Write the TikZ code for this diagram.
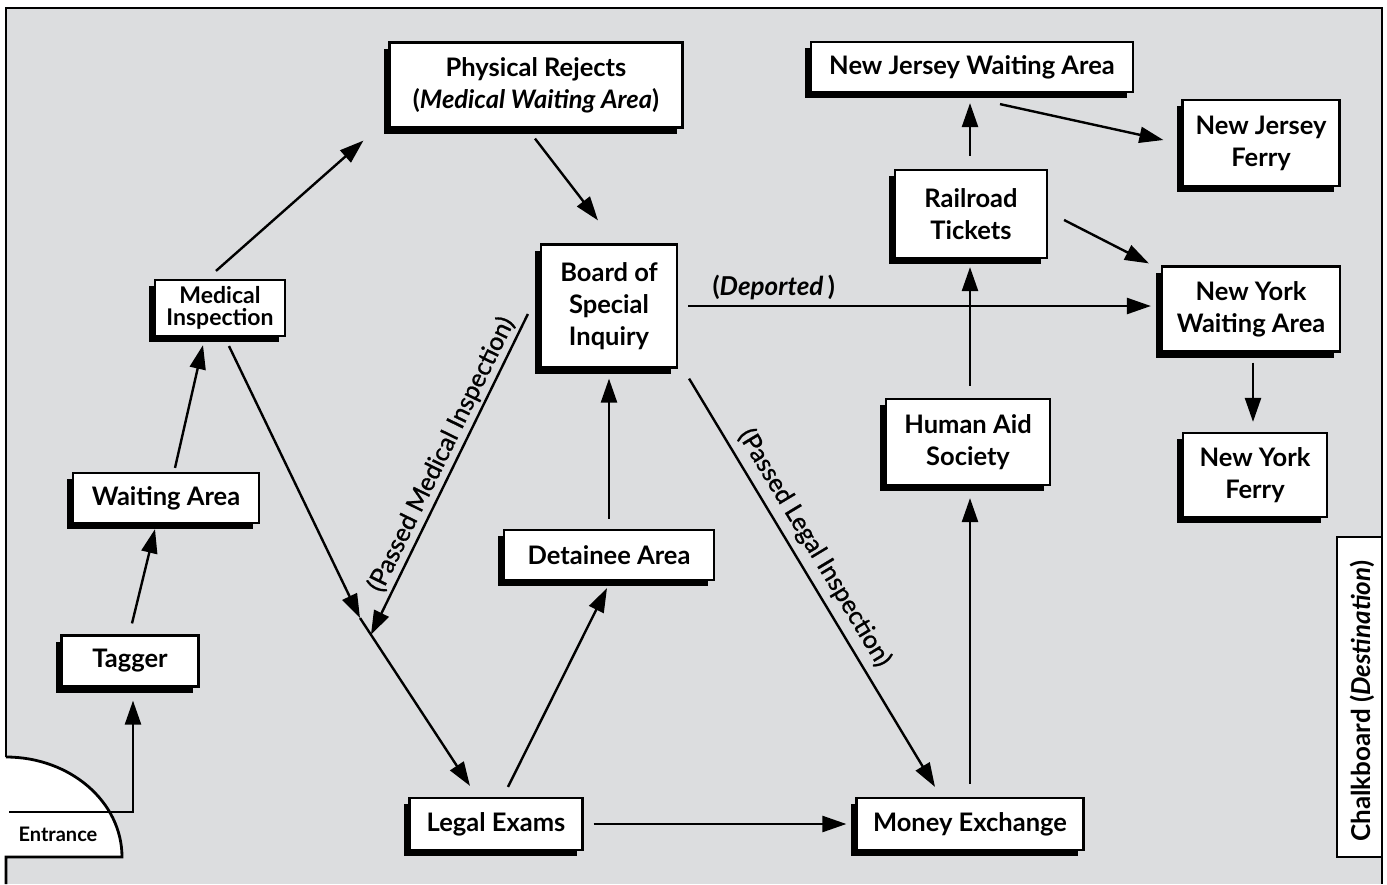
\documentclass[tikz,border=0pt]{standalone}
\usepackage{fontspec}
\setmainfont{Lato}
\newfontfamily\lblfont{Lato}[FakeBold=1]
\usetikzlibrary{arrows.meta,calc,shadows}
\definecolor{floor}{RGB}{220,221,223}
\begin{document}
\begin{tikzpicture}[x=1pt,y=-1pt,
  box/.style={draw=black, line width=2.2pt, fill=white, align=center, inner sep=0pt,
    font=\bfseries\fontsize{25.5}{32}\selectfont,
    general shadow={fill=black, shadow xshift=-6pt, shadow yshift=-6pt}},
  arr/.style={line width=2.4pt, -{Triangle[length=24pt,width=16pt]}},
  wall/.style={line width=2.8pt},
  lbl/.style={inner sep=1pt, font=\lblfont\fontsize{25}{28}\selectfont}
]
\useasboundingbox (0,0) rectangle (1387,884);

% floor plan: room, entrance and chalkboard
\fill[white] (0,0) rectangle (1387,884);
\fill[floor] (6,8) rectangle (1382,884);
\fill[white] (6,757) arc[start angle=90, end angle=0, x radius=116pt, y radius=100pt] -- (6,857) -- cycle;
\fill[white] (1337,537) rectangle (1382,857);
\draw[wall] (6,757) -- (6,8) -- (1382,8) -- (1382,884);
\draw[wall] (6,757) arc[start angle=90, end angle=0, x radius=116pt, y radius=100pt] -- (6,857) -- (6,884);
\draw[wall] (1382,537) -- (1337,537) -- (1337,857) -- (1382,857);
\node[font=\bfseries\fontsize{20}{22}\selectfont] (entr) at (58,834) {Entrance};
\node[rotate=90, font=\bfseries\fontsize{26}{28}\selectfont] (chalk) at (1362,701) {Chalkboard (\textit{Destination})};

% stations
\node[box, minimum width=293pt, minimum height=85pt] (phys) at (536,85) {Physical Rejects\\(\textit{Medical Waiting Area})};
\node[box, minimum width=322pt, minimum height=50pt] (njw) at (972,67) {New Jersey Waiting Area};
\node[box, minimum width=157pt, minimum height=86pt] (njf) at (1261,143) {New Jersey\\Ferry};
\node[box, minimum width=152pt, minimum height=88pt] (rr) at (971,214) {Railroad\\Tickets};
\node[box, minimum width=136pt, minimum height=123pt] (bsi) at (609,306) {Board of\\Special\\Inquiry};
\node[box, minimum width=178pt, minimum height=85pt] (nyw) at (1251,309) {New York\\Waiting Area};
\node[box, minimum width=130pt, minimum height=56pt, font=\bfseries\fontsize{23}{22}\selectfont] (med) at (220,308) {Medical\\Inspection};
\node[box, minimum width=164pt, minimum height=86pt] (has) at (968,442) {Human Aid\\Society};
\node[box, minimum width=144pt, minimum height=84pt] (nyf) at (1255,475) {New York\\Ferry};
\node[box, minimum width=186pt, minimum height=50pt] (wait) at (166,498) {Waiting Area};
\node[box, minimum width=210pt, minimum height=50pt] (det) at (609,555) {Detainee Area};
\node[box, minimum width=137pt, minimum height=51pt] (tag) at (130,661) {Tagger};
\node[box, minimum width=173pt, minimum height=52pt] (legal) at (496,824) {Legal Exams};
\node[box, minimum width=227pt, minimum height=52pt] (money) at (970,824) {Money Exchange};

% route points
\coordinate (ent) at (9,812);
\coordinate (J) at (360,618);
\coordinate (Lend) at ($(legal.north)+(-26,-11)$);
\coordinate (K) at ($(J)!20pt!(Lend)$);

% flow of arrivals
\draw[arr] (ent) -| ($(tag.south)+(3,13)$);
\draw[arr] ($(tag.north)+(2,-11)$) -- ($(wait.south)+(-11,5)$);
\draw[arr] ($(wait.north)+(9,-4)$) -- ($(med.south)+(-17,8)$);
\draw[arr] ($(med.north)+(-4,-8)$) -- ($(phys.south west)+(-25,12)$);
\draw[arr] ($(phys.south)+(-1,10)$) -- ($(bsi.north)+(-11,-23)$);
\draw[arr] ($(med.south)+(9,9)$) -- (J);
\draw[arr] (J) -- (Lend);
\draw[arr] ($(bsi.west)+(-12,8)$) -- (K)
  node[lbl, pos=0.46, sloped, above=2pt] {(Passed Medical Inspection)};
\draw[arr] ($(legal.north)+(12,-10)$) -- ($(det.south)+(-2,7)$);
\draw[arr] ($(det.north)+(0,-10)$) -- ($(bsi.south)+(0,10)$);
\draw[arr] ($(bsi.east)+(10,0)$) -- ($(bsi.east -| nyw.west)+(-10,0)$)
  node[pos=0.185, above=4pt, inner sep=1pt, font=\bfseries\fontsize{26}{28}\selectfont] {(\textit{Deported\,})};
\draw[arr] ($(bsi.south east)+(11,10)$) -- ($(money.north)+(-35,-10)$)
  node[lbl, pos=0.44, sloped, above=6pt] {(Passed Legal Inspection)};
\draw[arr] ($(legal.east)+(10,0)$) -- ($(money.west)+(-9,0)$);
\draw[arr] ($(money.north)+(0,-13)$) -- ($(has.south)+(2,12)$);
\draw[arr] ($(has.north)+(2,-12)$) -- ($(rr.south)+(-1,8)$);
\draw[arr] ($(rr.north)+(-1,-13)$) -- ($(njw.south)+(-2,10)$);
\draw[arr] ($(njw.south)+(28,11)$) -- ($(njf.west)+(-18,-3)$);
\draw[arr] ($(rr.east)+(16,6)$) -- ($(nyw.north west)+(-12,-2)$);
\draw[arr] ($(nyw.south)+(2,10)$) -- ($(nyf.north)+(-2,-10)$);
\end{tikzpicture}
\end{document}
